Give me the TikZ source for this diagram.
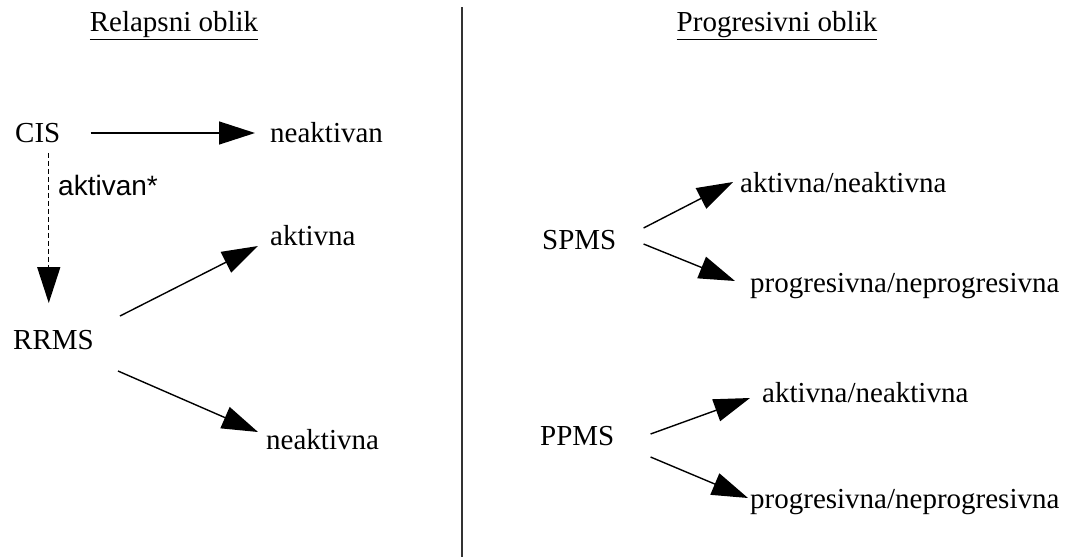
\documentclass[tikz,border=0pt]{standalone}
\usepackage{fontspec}
\setmainfont{Liberation Serif}
\setsansfont{Liberation Sans}
\usetikzlibrary{arrows.meta,positioning}

\begin{document}
\begin{tikzpicture}[x=1pt, y=-1pt, font=\fontsize{29}{34}\selectfont]
      \tikzstyle{lbl}=[anchor=west,inner sep=0pt]
      \tikzstyle{head}=[anchor=center,inner sep=0pt]
      \tikzstyle{arr}=[-{Triangle[length=36pt,width=23pt]},line width=1.4pt]
      \tikzstyle{darr}=[arr,dash pattern=on 5pt off 3pt]
      \useasboundingbox (0,0) rectangle (1081,557);

      % titles and divider
      \node[head] (relapsni) at (174,26) {\underline{Relapsni oblik}};
      \node[head] (progresivni) at (777,26) {\underline{Progresivni oblik}};
      \coordinate (divtop) at (462,7);
      \coordinate (divbot) at (462,557);
      \draw[line width=1.4pt,black!80] (divtop) -- (divbot);

      % relapsni oblik
      \node[lbl] (cis) at (15,133) {CIS};
      \node[lbl] (neaktivan) at (270,133) {neaktivan};
      \node[lbl,font=\sffamily\fontsize{28}{32}\selectfont] (aktivanstar) at (58,185) {aktivan*};
      \node[lbl] (aktivna) at (270,236) {aktivna};
      \node[lbl] (rrms) at (13,340) {RRMS};
      \node[lbl] (neaktivna) at (266,440) {neaktivna};

      % progresivni oblik
      \node[lbl] (spms) at (542,240) {SPMS};
      \node[lbl] (spmsakt) at (740,183) {aktivna/neaktivna};
      \node[lbl] (spmsprog) at (750,286) {progresivna/neprogresivna};
      \node[lbl] (ppms) at (540,436) {PPMS};
      \node[lbl] (ppmsakt) at (762,393) {aktivna/neaktivna};
      \node[lbl] (ppmsprog) at (750,502) {progresivna/neprogresivna};

      % arrows
      \draw[arr] ([shift={(30,0)}]cis.east) -- ([shift={(-15,0)}]neaktivan.west);
      \draw[darr] ([shift={(11,10)}]cis.south) -- ([shift={(11,-27)}]cis.south |- rrms.north);
      \draw[arr] ([shift={(26,-24)}]rrms.east) -- ([shift={(-12,10)}]aktivna.west);
      \draw[arr] ([shift={(24,31)}]rrms.east) -- ([shift={(-8,-8)}]neaktivna.west);
      \draw[arr] ([shift={(27,-12)}]spms.east) -- ([shift={(-7,-1)}]spmsakt.west);
      \draw[arr] ([shift={(27,4)}]spms.east) -- ([shift={(-15,-5)}]spmsprog.west);
      \draw[arr] ([shift={(36,-2)}]ppms.east) -- ([shift={(-12,5)}]ppmsakt.west);
      \draw[arr] ([shift={(36,21)}]ppms.east) -- ([shift={(-2,-4)}]ppmsprog.west);
    \end{tikzpicture}
\end{document}
